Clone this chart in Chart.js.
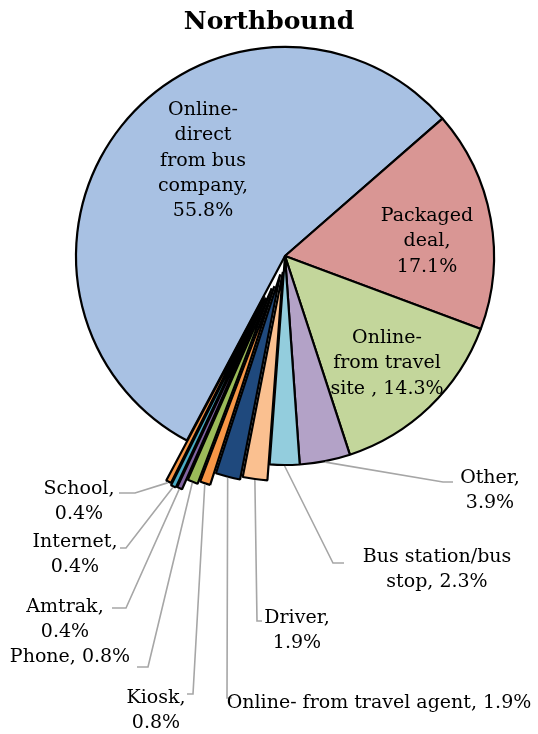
<!DOCTYPE html>
<html>
<head>
<meta charset="utf-8">
<script src="https://cdn.jsdelivr.net/npm/chart.js@4.4.1/dist/chart.umd.min.js"></script>
<style>
    html, body { margin: 0; padding: 0; background: #fff; }
    canvas { display: block; }
</style>
</head>
<body>
<canvas id="chart-northbound" width="538" height="734"></canvas>
<script>
const chartTitle = 'Northbound';
const categories = ['Online- direct from bus company', 'Packaged deal', 'Online- from travel site ', 'Other', 'Bus station/bus stop', 'Driver', 'Online- from travel agent', 'Kiosk', 'Phone', 'Amtrak', 'Internet', 'School'];
const shares = [55.8, 17.1, 14.3, 3.9, 2.3, 1.9, 1.9, 0.8, 0.8, 0.4, 0.4, 0.4];

const sliceColors = ['#A8C1E3', '#D99694', '#C3D69B', '#B3A2C7', '#93CDDD', '#FAC090', '#1F497D', '#F79646', '#9BBB59', '#8064A2', '#4BACC6', '#F79646'];
// explosion in px, whole slice pushed out like excel does
// (chart.js "offset" shrinks thin arcs to nothing, so it is done by hand)
const explode = [0, 0, 0, 0, 0, 16, 19, 32, 35, 46, 47, 45];

// label boxes: centre x, middle of first line, words per line, leader elbow
const labelLayout = [
    { x: 203, y: 110, lines: [1, 1, 2, 1, 1] },
    { x: 427, y: 216, lines: [1, 1, 1] },
    { x: 387, y: 338, lines: [1, 2, 3] },
    { x: 490, y: 478, lines: [1, 1], elbow: [443, 482], end: 453 },
    { x: 437, y: 557, lines: [2, 2], elbow: [333, 563], end: 344 },
    { x: 297, y: 618, lines: [1, 1], elbow: [257, 621], end: 262 },
    { x: 379, y: 703, lines: [6], elbow: [227, 698], end: 232 },
    { x: 156, y: 698, lines: [1, 1], elbow: [193, 694], end: 187 },
    { x: 70, y: 657, lines: [2], elbow: [148, 667], end: 137 },
    { x: 65, y: 607, lines: [1, 1], elbow: [126, 608], end: 112 },
    { x: 75, y: 542, lines: [1, 1], elbow: [126, 548], end: 120 },
    { x: 79, y: 489, lines: [1, 1], elbow: [135, 493], end: 119 }
];

const LABEL_FONT = '19px "DejaVu Serif"';
const TITLE_FONT = 'bold 25px "DejaVu Serif"';
const LINE_H = 25.3;

const wrapLabel = (i) => {
    const words = `${categories[i]}, ${shares[i].toFixed(1)}%`.split(' ');
    const out = [];
    let k = 0;
    labelLayout[i].lines.forEach(n => {
        out.push(words.slice(k, k + n).join(' '));
        k += n;
    });
    return out;
};

const explodeSlices = {
    id: 'explodeSlices',
    afterDatasetUpdate(chart, args) {
        args.meta.data.forEach((arc, i) => {
            const d = explode[i];
            if (!d) return;
            const mid = (arc.startAngle + arc.endAngle) / 2;
            arc.x += Math.cos(mid) * d;
            arc.y += Math.sin(mid) * d;
        });
    }
};

const pieLabels = {
    id: 'pieLabels',
    afterDatasetsDraw(chart) {
        const ctx = chart.ctx;
        const arcs = chart.getDatasetMeta(0).data;
        ctx.save();

        // leader lines
        ctx.strokeStyle = '#A6A6A6';
        ctx.lineWidth = 1.6;
        labelLayout.forEach((lay, i) => {
            if (!lay.elbow) return;
            const arc = arcs[i];
            const mid = (arc.startAngle + arc.endAngle) / 2;
            const r = arc.outerRadius + 1;
            ctx.beginPath();
            ctx.moveTo(arc.x + Math.cos(mid) * r, arc.y + Math.sin(mid) * r);
            ctx.lineTo(lay.elbow[0], lay.elbow[1]);
            ctx.lineTo(lay.end, lay.elbow[1]);
            ctx.stroke();
        });

        ctx.fillStyle = '#000';
        ctx.textAlign = 'center';
        ctx.textBaseline = 'middle';

        ctx.font = TITLE_FONT;
        ctx.fillText(chartTitle, chart.width / 2, 22);

        ctx.font = LABEL_FONT;
        labelLayout.forEach((lay, i) => {
            wrapLabel(i).forEach((txt, j) => {
                ctx.fillText(txt, lay.x, lay.y + j * LINE_H);
            });
        });
        ctx.restore();
    }
};

const ctxPie = document.getElementById('chart-northbound').getContext('2d');
new Chart(ctxPie, {
    type: 'pie',
    data: {
        labels: categories,
        datasets: [{
            data: shares,
            backgroundColor: sliceColors,
            borderColor: '#000',
            borderWidth: 2.2
        }]
    },
    options: {
        responsive: false,
        animation: false,
        rotation: 208,
        radius: 209,
        layout: { padding: { left: 32, right: 0, top: 36, bottom: 258 } },
        plugins: {
            legend: { display: false },
            tooltip: { enabled: false },
            title: { display: false }
        }
    },
    plugins: [explodeSlices, pieLabels]
});
</script>
</body>
</html>
